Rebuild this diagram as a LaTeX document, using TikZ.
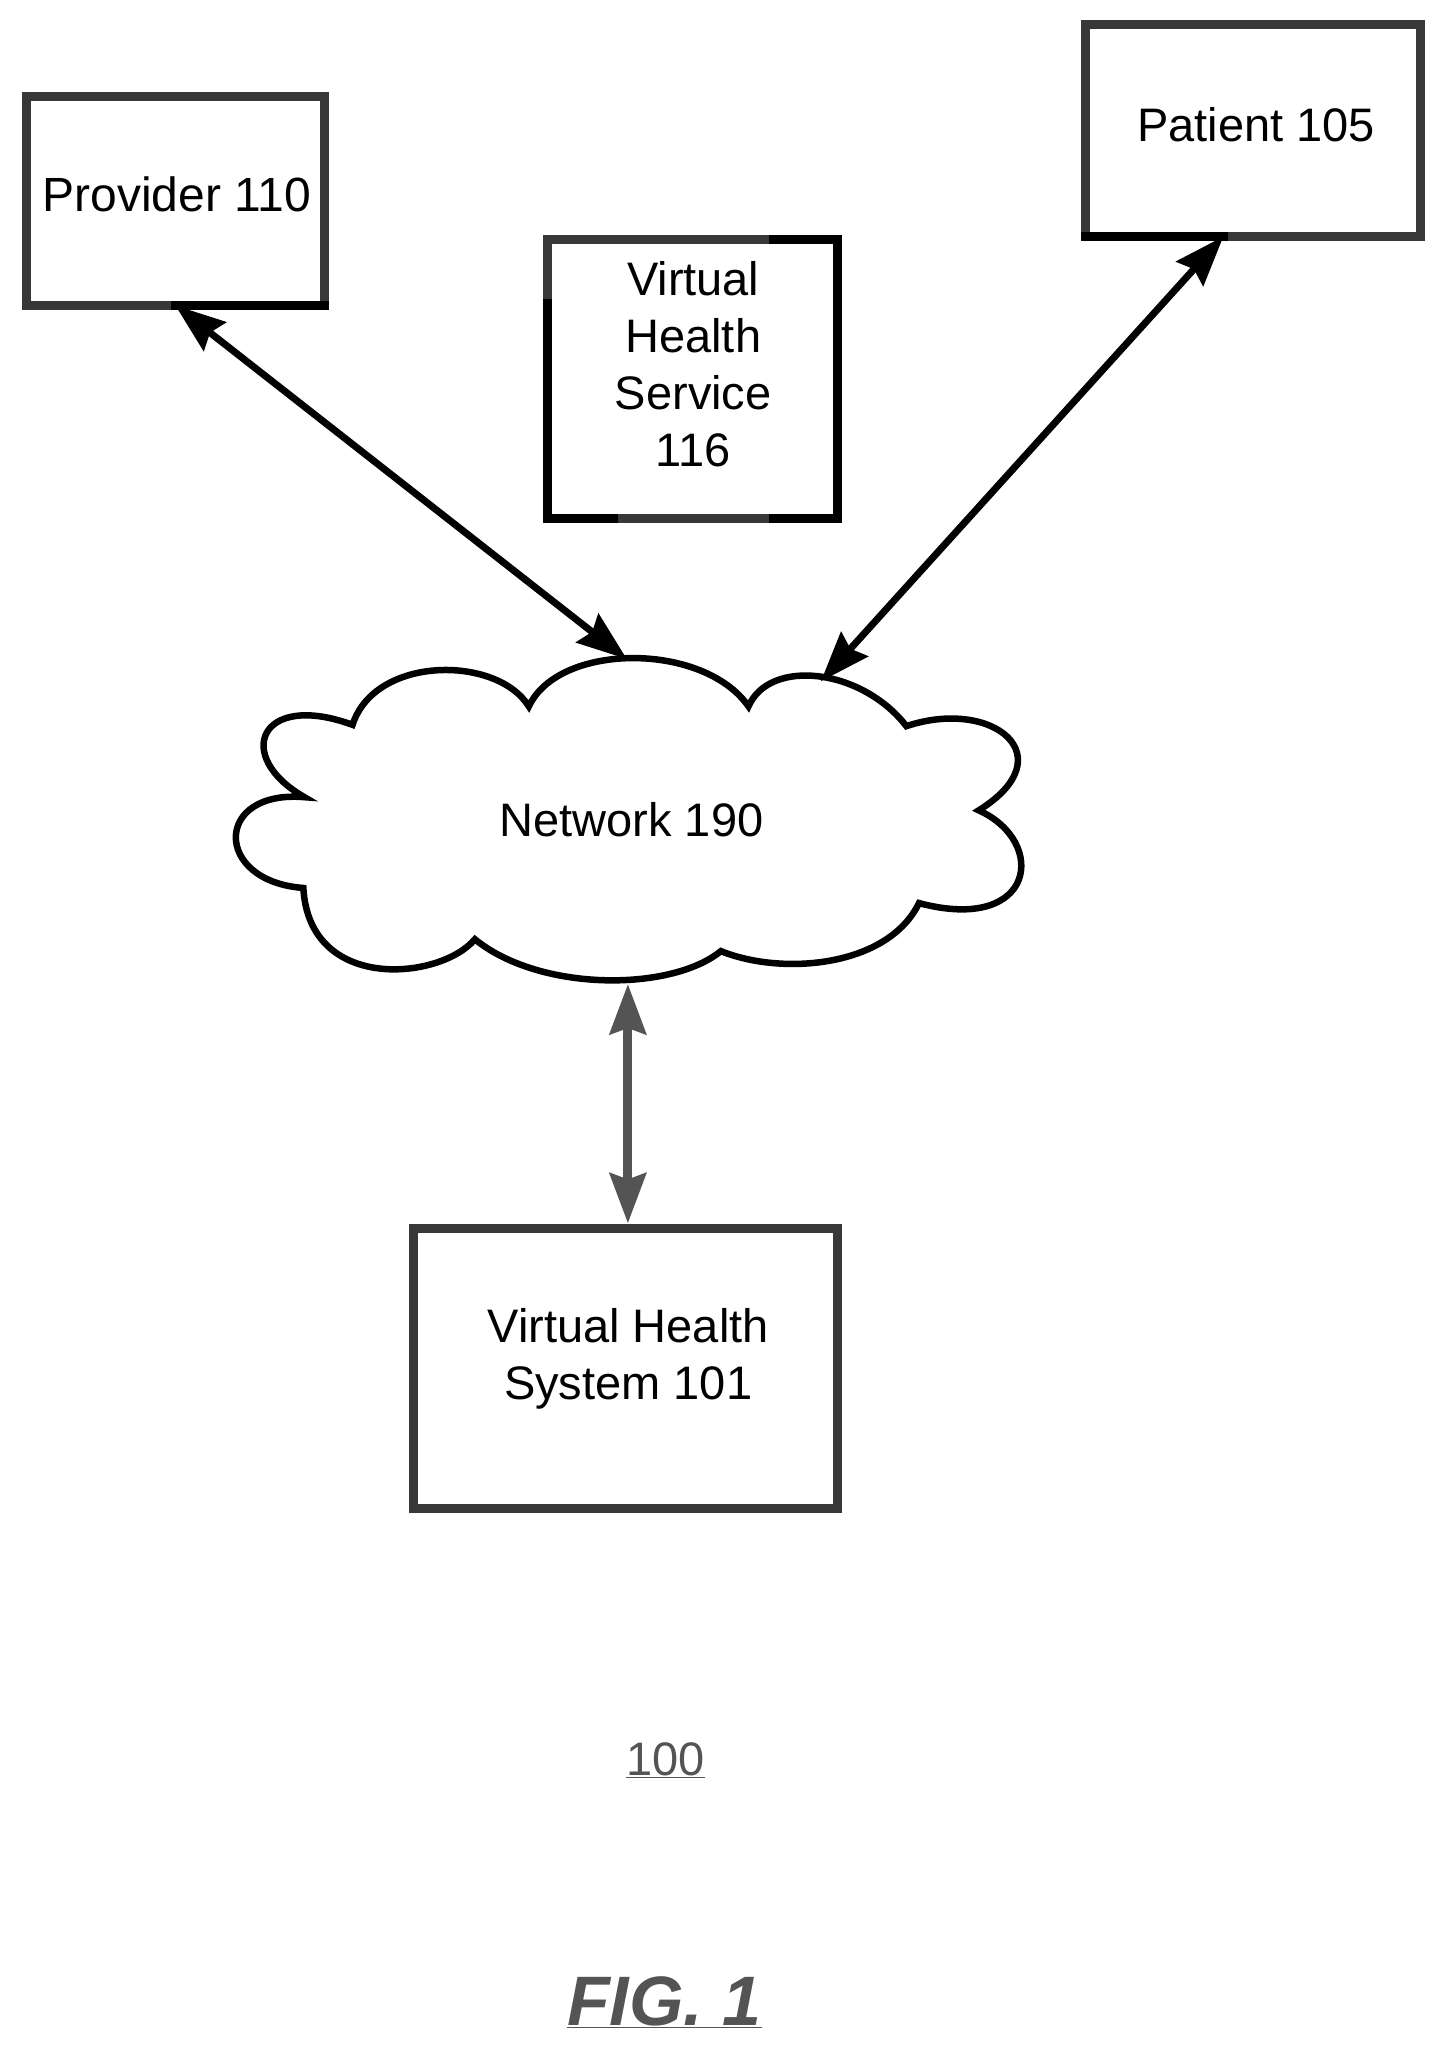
\documentclass[tikz,border=0pt]{standalone}
\usepackage{fontspec}
\setmainfont{Liberation Sans}
\usetikzlibrary{arrows.meta}
\definecolor{dither}{gray}{0.22}
\definecolor{ditherlight}{gray}{0.33}
\tikzset{
  box/.style={draw=dither, line width=9pt, fill=white, minimum width=#1, inner sep=0pt, outer sep=0pt},
  lbl/.style={font=\fontsize{47}{57}\selectfont, align=center, inner sep=0pt},
  solidpart/.style={draw=black, line width=9pt, line cap=rect},
  biarrow/.style={draw=black, line width=7pt, {Stealth[length=50pt,width=36pt,inset=6pt]}-{Stealth[length=50pt,width=36pt,inset=6pt]}},
}
\begin{document}
\begin{tikzpicture}[x=1.3155pt,y=-1.3155pt]
\useasboundingbox (0,0) rectangle (1100,1561.4);
% boxes
\node[box=298pt, minimum height=209pt] (provider) at (133.3,152.8) {};
\node[box=290pt, minimum height=279pt] (service) at (526.5,288.1) {};
\node[box=335pt, minimum height=212pt] (patient) at (952.5,99.2) {};
\node[box=424pt, minimum height=280pt] (system) at (475.5,1040.3) {};
\node[lbl, font=\fontsize{48}{57}\selectfont] (providertext) at (134.5,148) {Provider 110};
\node[lbl] (servicetext) at (527,277) {Virtual\\Health\\Service\\116};
\node[lbl] (patienttext) at (955,95) {Patient 105};
\node[lbl] (systemtext) at (477.5,1033) {Virtual Health\\System 101};
% solid parts of the outlines
\coordinate (patientcut) at (930,0);
\coordinate (servicecut) at (588,0);
\coordinate (servicegap) at (466.5,0);
\coordinate (serviceleft) at (0,231);
\draw[solidpart] (provider.south) -- (provider.south east);
\draw[solidpart] (servicecut |- service.north) -- (service.north east) -- (service.south east) -- (servicecut |- service.south);
\draw[solidpart] (service.west |- serviceleft) -- (service.south west) -- (servicegap |- service.south);
\draw[solidpart] (patient.south west) -- (patientcut |- patient.south);
% cloud
\coordinate (netleft) at (476.5,501);
\coordinate (netright) at (624,518);
\coordinate (netfoot) at (477.3,748);
\coordinate (systemtop) at (477.3,930);
\draw[black, line width=6.5pt, fill=white, line join=miter]
  (268,551) .. controls (285,498) and (378,498) .. (402,537)
  .. controls (425,488) and (535,488) .. (569,537)
  .. controls (585,500) and (655,508) .. (689,552)
  .. controls (755,530) and (810,575) .. (744,616)
  .. controls (797,640) and (787,710) .. (698.6,686.5)
  .. controls (675,735) and (595,742) .. (548,723)
  .. controls (510,754) and (410,754) .. (361,714)
  .. controls (335,745) and (235,755) .. (230.6,675)
  .. controls (162,670) and (162,600) .. (231.5,606)
  .. controls (177,575) and (197,525) .. (268,551) -- cycle;
\node[lbl] (network) at (480,623) {Network 190};
% arrows
\draw[biarrow] (provider.south) -- (netleft);
\draw[biarrow] (patientcut |- patient.south) -- (netright);
\draw[biarrow, draw=ditherlight, fill=ditherlight, line width=9pt] (netfoot) -- (systemtop);
% captions
\node[lbl, text=ditherlight] (refnum) at (506,1338) {\underline{100}};
\node[lbl, text=ditherlight, font=\fontsize{70}{80}\selectfont\bfseries\itshape] (figlabel) at (505,1522) {\underline{FIG. 1}};
\end{tikzpicture}
\end{document}
